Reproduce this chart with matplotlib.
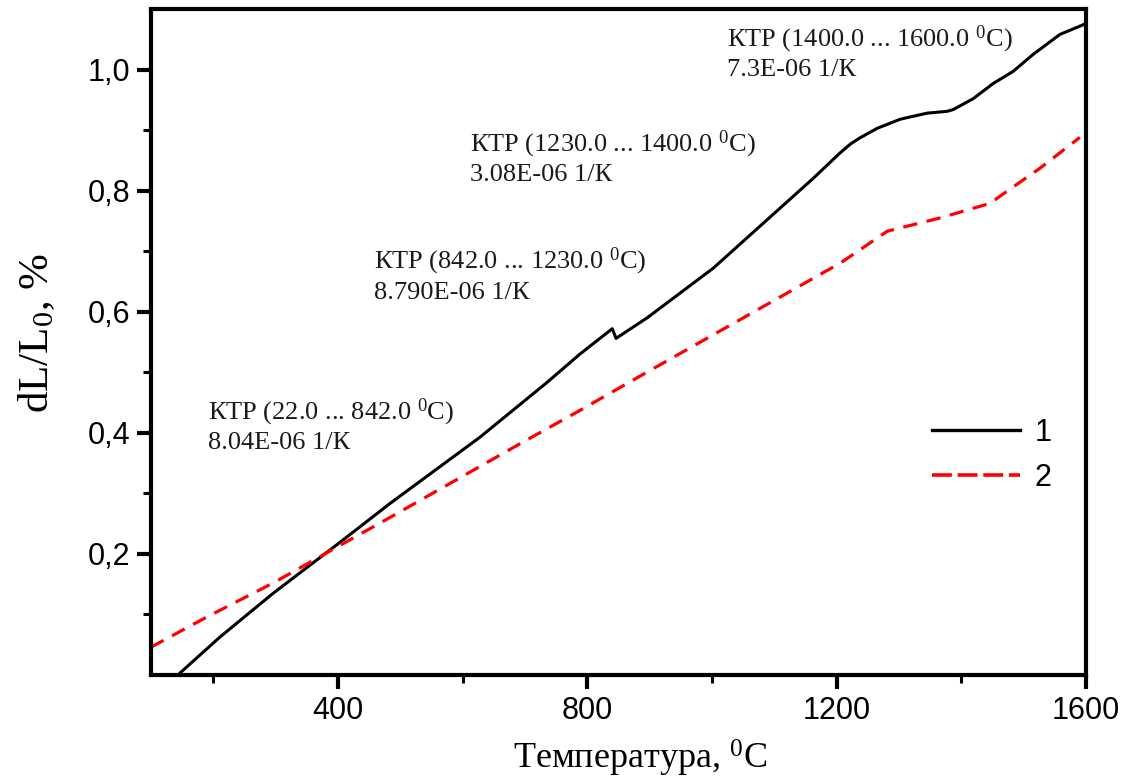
import matplotlib
matplotlib.use("Agg")
import matplotlib.pyplot as plt
from matplotlib.lines import Line2D
from matplotlib.ticker import FixedLocator, FuncFormatter

# Dilatometer curves: relative elongation vs temperature
temp_1 = [143, 211, 296, 403, 483, 628, 735, 788, 840, 846, 896, 1002, 1109,
          1162, 1205, 1222, 1237, 1265, 1302, 1345, 1377, 1387, 1419, 1451,
          1483, 1515, 1558, 1600]
dl_1 = [0.0, 0.063, 0.135, 0.219, 0.283, 0.393, 0.483, 0.530, 0.572, 0.556,
        0.590, 0.672, 0.771, 0.820, 0.862, 0.877, 0.887, 0.903, 0.918, 0.928,
        0.931, 0.934, 0.952, 0.977, 0.997, 1.025, 1.058, 1.076]

temp_2 = [100, 190, 296, 403, 483, 692, 788, 885, 1045, 1205, 1237, 1258,
          1281, 1366, 1446, 1473, 1526, 1590]
dl_2 = [0.046, 0.096, 0.152, 0.214, 0.260, 0.382, 0.437, 0.494, 0.587, 0.680,
        0.702, 0.717, 0.733, 0.755, 0.779, 0.799, 0.837, 0.888]

series_labels = ["1", "2"]

x_major = [400, 800, 1200, 1600]
x_minor = [200, 600, 1000, 1400]
y_major = [0.2, 0.4, 0.6, 0.8, 1.0]
y_minor = [0.1, 0.3, 0.5, 0.7, 0.9]

# Thermal expansion coefficient notes: (x, y, first line, second line)
notes = [
    (191, 0.413, "КТР (22.0 ... 842.0 $^{0}$C)", "8.04E-06 1/К"),
    (458, 0.661, "КТР (842.0 ... 1230.0 $^{0}$C)", "8.790E-06 1/К"),
    (612, 0.855, "КТР (1230.0 ... 1400.0 $^{0}$C)", "3.08E-06 1/К"),
    (1024, 1.028, "КТР (1400.0 ... 1600.0 $^{0}$C)", "7.3E-06 1/К"),
]

plt.rcParams["mathtext.fontset"] = "custom"
plt.rcParams["mathtext.rm"] = "Liberation Serif"
plt.rcParams["mathtext.it"] = "Liberation Serif"
plt.rcParams["mathtext.bf"] = "Liberation Serif"

fig = plt.figure(figsize=(11.29, 7.83), dpi=100)
ax = fig.add_axes([0.1337, 0.1379, 0.8283, 0.8506])

ax.plot(temp_1, dl_1, color="black", lw=2.2, solid_joinstyle="round")
ax.plot(temp_2, dl_2, color="#ff0000", lw=2.3, dashes=(4.5, 3.0))

ax.set_xlim(100, 1600)
ax.set_ylim(0.0, 1.1)

ax.xaxis.set_major_locator(FixedLocator(x_major))
ax.xaxis.set_minor_locator(FixedLocator(x_minor))
ax.yaxis.set_major_locator(FixedLocator(y_major))
ax.yaxis.set_minor_locator(FixedLocator(y_minor))
ax.yaxis.set_major_formatter(FuncFormatter(lambda v, p: f"{v:.1f}".replace(".", ",")))

for s in ax.spines.values():
    s.set_linewidth(3.0)

ax.tick_params(which="major", direction="out", length=10, width=3.0,
               labelsize=22, pad=5)
ax.tick_params(which="minor", direction="out", length=6, width=2.2)
for lab in ax.get_xticklabels() + ax.get_yticklabels():
    lab.set_fontfamily("Liberation Sans")

ax.set_xlabel("Температура, $^{0}$C", fontsize=26, family="Liberation Serif",
              va="center")
ax.xaxis.set_label_coords(0.523, -0.125)
ax.set_ylabel("dL/L$_{0}$, %", fontsize=31, family="Liberation Serif",
              va="center")
ax.yaxis.set_label_coords(-0.122, 0.514)

for x, y, l1, l2 in notes:
    ax.text(x, y, l1 + "\n" + l2, fontsize=19, family="Liberation Serif",
            color="#1a1a1a", ha="left", va="center", linespacing=1.25)

handles = [
    Line2D([], [], color="black", lw=2.4),
    Line2D([], [], color="#ff0000", lw=2.6, dashes=(5.5, 1.6)),
]
leg = ax.legend(handles, series_labels, loc="center left",
                bbox_to_anchor=(0.835, 0.330), frameon=False,
                handlelength=2.9, handletextpad=0.45, labelspacing=0.5,
                borderpad=0, borderaxespad=0,
                prop={"family": "Liberation Sans", "size": 22})

fig.savefig("out.png", dpi=100)
